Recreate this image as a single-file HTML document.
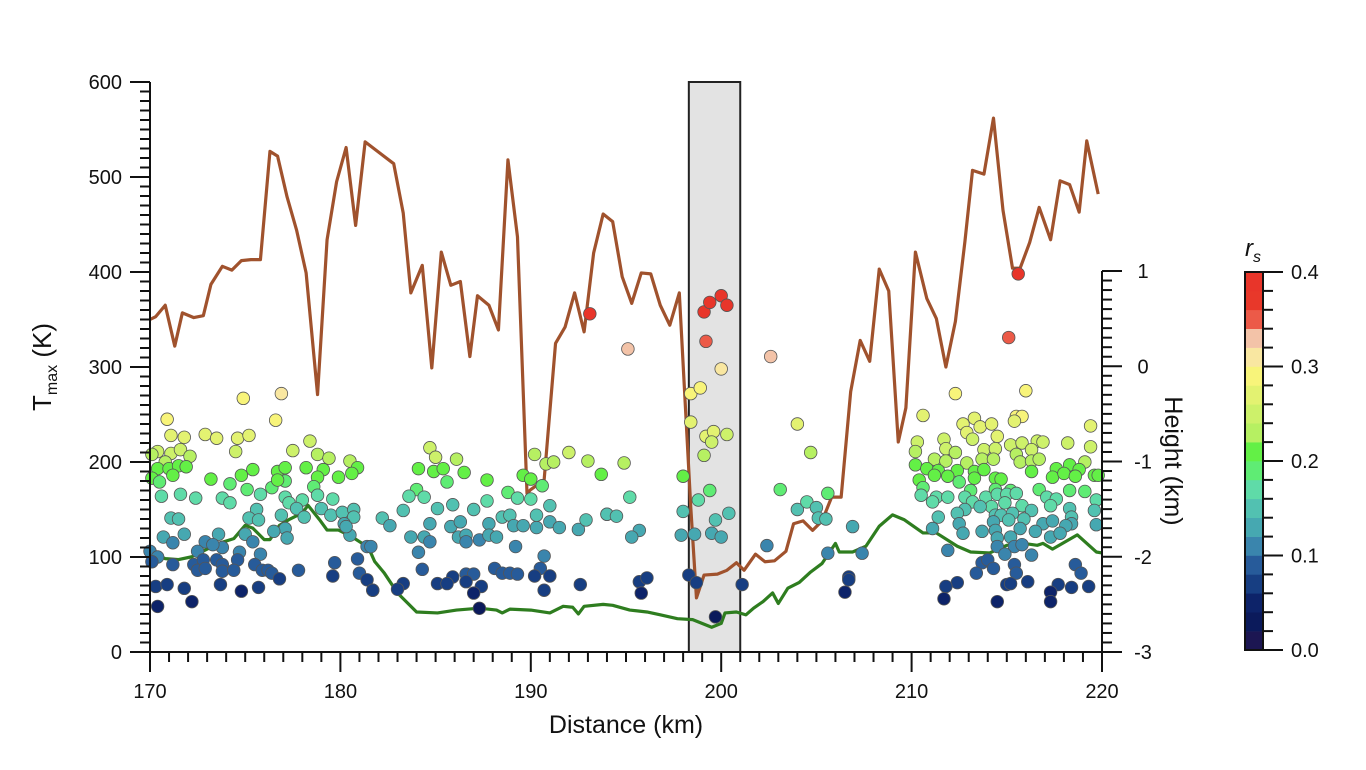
<!DOCTYPE html>
<html><head><meta charset="utf-8"><style>
html,body{margin:0;padding:0;background:#fff;}
svg{display:block;font-family:"Liberation Sans",Arial,sans-serif;}
</style></head>
<body>
<svg id="chart" width="1366" height="770" viewBox="0 0 1366 770" xmlns="http://www.w3.org/2000/svg">
<g id="bg"></g>
<g id="lines"></g>
<g id="dots"></g>
<g id="axes"></g>
<g id="cbar"></g>
</svg>
<script>
// ---- data ----
const lineDist = [170,170.3,170.8,171.3,171.7,172.3,172.8,173.2,173.8,174.3,174.8,175.3,175.8,176.3,176.7,177.2,177.7,178.2,178.8,179.3,179.8,180.3,180.8,181.3,182.8,183.3,183.7,184.3,184.8,185.3,185.8,186.3,186.8,187.2,187.8,188.3,188.8,189.3,189.8,190.0,190.7,191.3,191.8,192.3,192.8,193.3,193.8,194.3,194.8,195.3,195.8,196.3,196.8,197.3,197.8,198.4,198.7,199.1,199.8,200.3,200.8,201.2,201.8,202.3,202.8,203.4,203.8,204.3,204.8,205.3,205.8,206.3,206.8,207.3,207.8,208.3,208.8,209.3,209.7,210.2,210.8,211.3,211.8,212.3,212.8,213.2,213.8,214.3,214.8,215.3,215.7,216.2,216.7,217.3,217.8,218.3,218.8,219.2,219.8];
const tmaxLine = [350,353,365,322,357,352,354,387,406,402,412,413,413,527,522,479,444,399,271,434,495,531,449,537,514,462,378,407,299,421,386,390,311,375,365,339,518,437,167,171,181,325,342,378,337,420,461,453,395,367,399,398,365,344,378,153,57,81,82,86,94,86,103,95,96,106,135,138,128,138,163,163,274,328,306,403,380,221,257,421,372,351,300,348,432,507,503,562,465,404,404,431,468,434,496,492,463,538,482];
const hDist = [170,170.2,170.8,171.5,172.2,172.9,173.6,174.4,175.0,175.4,176.0,176.3,176.8,177.3,178.0,178.3,178.9,179.3,179.9,180.6,181.3,181.6,181.8,182.3,183.0,184.0,185.1,186.1,187.3,188.2,188.5,188.9,190.0,191.0,191.7,192.2,192.5,192.8,193.8,194.3,195.2,196.1,196.8,197.7,198.5,199.5,200.0,200.2,200.8,201.3,201.7,202.2,202.7,203.0,203.5,204.1,204.7,205.3,206.0,206.2,206.9,207.6,208.3,209.0,209.6,210.6,211.3,212.4,213.1,214.1,215.0,215.9,216.6,216.9,217.4,218.7,219.7,220];
const heightVals = [-1.96,-1.96,-2.02,-2.03,-2.00,-1.93,-1.86,-1.81,-1.67,-1.70,-1.82,-1.82,-1.67,-1.61,-1.54,-1.46,-1.61,-1.72,-1.72,-1.79,-1.88,-1.96,-2.05,-2.17,-2.38,-2.58,-2.59,-2.56,-2.54,-2.56,-2.59,-2.55,-2.56,-2.59,-2.52,-2.53,-2.60,-2.52,-2.50,-2.51,-2.56,-2.58,-2.61,-2.65,-2.66,-2.74,-2.70,-2.59,-2.58,-2.61,-2.54,-2.47,-2.38,-2.49,-2.33,-2.27,-2.16,-2.07,-1.86,-1.95,-1.95,-1.89,-1.68,-1.56,-1.61,-1.75,-1.75,-1.89,-1.95,-1.96,-1.88,-1.86,-1.88,-1.86,-1.92,-1.77,-1.95,-1.96];
const ptDist = [174.9,176.9,170.9,176.6,171.1,171.8,172.9,173.5,174.6,175.2,174.5,178.4,177.5,178.8,179.4,180.5,180.9,180.6,170.4,171.1,171.6,172.1,170.1,170.8,170.4,171.0,171.5,171.2,171.9,170.1,170.5,173.2,174.2,174.8,175.4,176.7,177.1,177.1,176.4,176.7,178.2,179.1,178.8,179.9,175.1,175.8,170.6,171.6,172.4,173.8,174.2,177.1,178.0,178.6,178.8,179.6,175.6,177.3,177.7,178.1,179.0,179.5,180.1,180.7,180.7,180.2,175.2,175.7,176.9,177.1,171.1,171.5,176.5,177.2,175.0,175.4,170.7,171.2,171.8,173.6,173.8,172.9,173.3,180.5,180.3,181.4,170.0,170.4,172.5,174.7,175.8,170.1,171.2,172.3,172.8,173.5,173.8,174.6,175.5,172.5,172.9,173.8,174.4,175.9,176.2,176.4,176.8,177.8,179.7,179.6,180.9,181.0,181.4,181.7,170.3,170.9,171.8,173.7,174.8,175.7,170.4,172.2,
184.7,185.0,186.1,184.1,184.9,185.4,186.5,185.6,187.7,190.2,190.8,191.2,192.0,193.0,193.7,189.6,190.0,190.6,184.0,183.6,184.4,188.8,189.3,190.0,183.3,185.1,185.9,187.0,187.7,191.0,194.0,182.2,182.6,184.7,185.8,186.3,187.8,188.5,188.9,189.1,189.6,190.3,190.3,191.0,191.5,192.5,192.9,183.7,184.4,184.7,186.2,186.6,187.3,187.8,188.2,186.6,189.2,184.1,190.7,181.6,184.3,188.1,188.5,188.9,189.3,190.5,190.2,191.0,185.9,186.6,187.0,186.6,185.1,185.6,183.3,183.0,181.7,187.4,187.0,190.7,192.6,187.3,
193.1,195.1,199.1,199.4,200.0,200.3,199.2,202.6,200.0,198.4,198.9,198.4,199.2,199.6,199.5,200.3,199.1,198.0,194.9,199.4,198.8,203.1,195.2,198.0,199.7,200.4,194.0,194.5,195.7,195.3,197.9,198.6,199.5,200.0,202.4,198.3,198.7,201.1,195.7,196.1,195.8,199.7,
215.6,215.1,212.3,216.0,204.0,204.7,210.6,205.6,204.0,204.5,205.0,205.1,205.5,206.9,205.6,207.4,206.7,206.7,206.5,
213.3,215.5,215.8,215.4,212.7,213.6,214.2,219.4,212.9,214.5,210.3,211.7,213.2,215.2,215.8,216.6,216.9,218.2,219.4,210.2,211.8,212.3,213.8,214.4,215.5,216.3,211.2,211.8,212.9,213.7,214.3,215.7,216.3,216.7,219.1,210.2,210.8,211.4,212.4,213.3,213.8,216.3,217.6,218.3,218.8,219.6,210.4,211.2,211.9,212.5,213.3,214.4,214.7,217.4,218.0,218.6,219.8,210.6,213.1,214.4,215.2,216.7,218.3,219.1,210.5,211.3,211.9,212.8,213.9,214.5,215.0,215.5,217.1,217.6,219.7,211.1,213.2,214.2,214.9,215.8,217.3,218.3,212.8,213.6,214.4,214.7,215.3,219.6,211.4,212.4,216.3,218.4,212.5,214.3,215.1,215.9,216.9,217.4,218.4,219.7,211.1,213.7,214.4,215.7,216.5,218.1,212.7,214.5,215.2,217.3,217.8,214.5,215.4,215.8,211.9,214.9,216.3,213.7,214.0,214.3,215.4,215.5,213.4,218.6,218.9,212.4,211.8,215.0,215.2,216.1,217.7,218.4,219.3,217.3,211.7,214.5,217.3];
const ptTmax = [267,272,245,244,228,226,229,225,225,228,211,222,212,208,204,201,194,188,211,209,213,206,208,200,193,193,196,186,195,183,179,182,177,186,192,190,194,180,173,181,194,192,184,184,171,166,164,166,162,162,157,163,160,174,165,161,150,157,151,142,151,144,147,150,142,135,141,139,144,130,141,140,127,120,124,116,121,115,124,124,110,116,113,123,132,111,106,100,106,105,103,95,92,92,97,97,92,97,92,86,88,85,86,86,86,83,77,86,94,80,98,83,76,65,69,71,67,71,64,68,48,53,
215,205,203,193,190,193,189,179,181,208,198,200,210,201,187,186,182,175,171,164,163,168,162,161,149,151,155,150,159,154,145,141,133,135,132,137,135,142,144,133,133,131,144,137,131,129,139,121,121,116,121,123,118,123,121,116,111,105,101,111,87,88,83,83,82,88,80,80,79,82,82,74,72,72,72,66,65,69,62,65,71,46,
356,319,358,368,375,365,327,311,298,272,278,242,227,232,221,229,207,185,199,170,160,171,163,148,139,146,145,143,128,121,123,124,125,121,112,81,73,71,74,78,62,37,
398,331,272,275,240,210,249,167,150,158,152,141,140,132,104,104,79,76,63,
246,248,248,243,240,237,240,238,231,227,221,224,224,218,220,222,221,220,216,211,214,210,213,214,208,213,203,201,199,203,203,200,201,203,200,197,193,191,191,190,192,190,193,197,192,186,181,186,185,179,183,183,182,184,188,185,186,173,170,171,170,171,170,169,165,163,163,163,163,166,166,167,163,161,160,158,158,153,157,154,154,151,150,153,144,144,146,149,142,146,149,142,135,137,139,140,135,138,135,134,130,127,128,130,127,133,125,120,121,121,125,111,111,113,107,103,102,94,97,88,92,83,83,92,83,73,69,71,72,74,71,68,69,63,56,53,53];
const ptRs = [.29,.30,.28,.28,.26,.26,.26,.26,.26,.26,.25,.25,.24,.23,.23,.23,.21,.20,.24,.24,.24,.23,.23,.22,.21,.21,.21,.20,.21,.20,.19,.20,.19,.20,.21,.20,.21,.19,.18,.20,.21,.21,.20,.20,.18,.17,.17,.17,.16,.16,.16,.16,.16,.18,.17,.16,.15,.16,.15,.14,.15,.14,.15,.15,.14,.13,.14,.14,.14,.13,.14,.14,.12,.12,.12,.11,.12,.11,.12,.12,.10,.11,.11,.12,.13,.10,.10,.10,.10,.10,.10,.09,.09,.09,.09,.09,.09,.09,.09,.08,.08,.08,.08,.08,.08,.08,.07,.08,.09,.07,.09,.08,.07,.06,.06,.06,.06,.06,.05,.06,.04,.04,
.25,.24,.23,.21,.21,.21,.21,.19,.20,.23,.22,.22,.24,.23,.21,.20,.20,.19,.18,.17,.17,.18,.16,.16,.15,.15,.15,.15,.16,.15,.14,.14,.13,.13,.13,.13,.13,.14,.14,.13,.13,.13,.14,.13,.13,.13,.14,.12,.12,.11,.12,.12,.11,.12,.12,.11,.10,.10,.10,.10,.08,.08,.08,.08,.08,.08,.07,.07,.07,.08,.08,.07,.06,.06,.06,.06,.06,.06,.05,.06,.06,.03,
.38,.33,.38,.39,.39,.38,.34,.32,.31,.29,.29,.27,.26,.26,.25,.25,.23,.20,.22,.18,.16,.19,.17,.15,.14,.15,.14,.14,.13,.12,.12,.12,.12,.12,.11,.07,.07,.06,.07,.07,.05,.02,
.38,.35,.29,.29,.27,.23,.27,.18,.15,.16,.15,.14,.14,.13,.10,.10,.07,.07,.05,
.27,.28,.28,.27,.27,.27,.27,.27,.26,.26,.25,.25,.25,.24,.24,.25,.25,.24,.24,.23,.24,.23,.24,.24,.23,.24,.22,.22,.22,.22,.22,.22,.22,.22,.22,.21,.21,.21,.21,.21,.21,.21,.21,.21,.21,.20,.20,.20,.20,.19,.20,.20,.20,.20,.20,.20,.20,.18,.18,.18,.18,.18,.18,.18,.17,.17,.17,.17,.17,.17,.17,.17,.17,.16,.16,.16,.16,.16,.16,.16,.16,.15,.15,.15,.14,.14,.14,.15,.14,.14,.15,.14,.13,.13,.14,.14,.13,.13,.13,.13,.13,.12,.12,.13,.12,.13,.12,.12,.12,.12,.12,.11,.11,.11,.10,.10,.10,.09,.09,.08,.09,.08,.08,.09,.08,.07,.06,.06,.06,.07,.06,.06,.06,.05,.04,.04,.04];
const xTicks = [170,180,190,200,210,220];
const yTicks = [0,100,200,300,400,500,600];
const hTicks = [-3,-2,-1,0,1];
const cbTicks = [0.0,0.1,0.2,0.3,0.4];
const cbColors = ['#1c1652','#0b1a5b','#0d2369','#173e82','#275b9a','#3a85ad','#46a8b1','#52c1b1','#5fdba8','#5fec74','#63f046','#b6f062','#cdf16a','#e3f271','#f8f47a','#f9e7a1','#f3c3a8','#ec5a48','#e8382a','#e8352a'];
const highlight = [198.3,201.0];

// ---- scales ----
const X0=150,X1=1102,YB=652,YT=82,HT=271;
const sx=d=>X0+(d-170)/(220-170)*(X1-X0);
const sy=v=>YB-(v-0)/(600-0)*(YB-YT);
const sh=h=>YB-(h+3)/(1+3)*(YB-HT);
const rsColor=r=>cbColors[Math.max(0,Math.min(19,Math.floor(r/0.02+1e-6)))];
const NS='http://www.w3.org/2000/svg';
function mk(tag,attrs,parent){const e=document.createElementNS(NS,tag);for(const k in attrs)e.setAttribute(k,attrs[k]);parent.appendChild(e);return e;}
const bg=document.getElementById('bg'),lines=document.getElementById('lines'),dots=document.getElementById('dots'),axes=document.getElementById('axes'),cbar=document.getElementById('cbar');

// highlight box
const box=mk('rect',{x:sx(highlight[0]),y:YT,width:sx(highlight[1])-sx(highlight[0]),height:YB-YT,fill:'#e3e3e3',stroke:'#222','stroke-width':2},bg);



// lines
const tl=mk('polyline',{points:lineDist.map((d,i)=>sx(d)+','+sy(tmaxLine[i])).join(' '),fill:'none',stroke:'#a0522d','stroke-width':3.2,'stroke-linejoin':'round'},lines);


const hl=mk('polyline',{points:hDist.map((d,i)=>sx(d)+','+sh(heightVals[i])).join(' '),fill:'none',stroke:'#2e7d1f','stroke-width':3.2,'stroke-linejoin':'round'},lines);



// dots
const n=Math.min(ptDist.length,ptTmax.length,ptRs.length);
for(let i=0;i<n;i++){
  const c=mk('circle',{cx:sx(ptDist[i]),cy:sy(ptTmax[i]),r:6.3,fill:rsColor(ptRs[i]),stroke:'#555','stroke-width':0.8},dots);
  
  
}

// axes
const ax=mk('g',{stroke:'#111','stroke-width':2,fill:'none'},axes);
mk('line',{x1:X0,y1:YT,x2:X0,y2:YB},ax);
mk('line',{x1:X0-20,y1:YB,x2:X1,y2:YB},ax);
mk('line',{x1:X1,y1:HT,x2:X1,y2:YB},ax);
for(let v=0;v<=600;v+=10){const y=sy(v);mk('line',{x1:X0-(v%100===0?20:10),y1:y,x2:X0,y2:y},ax);}
for(let d=170;d<=220;d++){const x=sx(d);mk('line',{x1:x,y1:YB,x2:x,y2:YB+(d%10===0?20:10)},ax);}
for(let k=0;k<=40;k++){const h=-3+k*0.1;const y=sh(h);mk('line',{x1:X1,y1:y,x2:X1+(k%10===0?20:10),y2:y},ax);}
const tg=mk('g',{fill:'#111','font-size':20},axes);
yTicks.forEach(v=>{const t=mk('text',{x:122,y:sy(v)+7,'text-anchor':'end'},tg);t.textContent=v;});
xTicks.forEach(v=>{const t=mk('text',{x:sx(v),y:698,'text-anchor':'middle'},tg);t.textContent=v;});
hTicks.forEach(v=>{const t=mk('text',{x:1143,y:sh(v)+7,'text-anchor':'middle'},tg);t.textContent=v;});

// colorbar
const CBX=1245,CBW=18,CBT=272,CBB=650;
cbColors.forEach((c,i)=>{const h=(CBB-CBT)/20;const r=mk('rect',{x:CBX,y:CBB-(i+1)*h,width:CBW,height:h+0.3,fill:c},cbar);});
mk('rect',{x:CBX,y:CBT,width:CBW,height:CBB-CBT,fill:'none',stroke:'#111','stroke-width':2},cbar);
for(let k=0;k<=20;k++){const y=CBB-k*(CBB-CBT)/20;mk('line',{x1:CBX+CBW,y1:y,x2:CBX+CBW+(k%5===0?20:10),y2:y,stroke:'#111','stroke-width':2},cbar);}
cbTicks.forEach(v=>{const t=mk('text',{x:1291,y:CBB-v/0.4*(CBB-CBT)+7,'font-size':20,fill:'#111'},cbar);t.textContent=v.toFixed(1);});
</script>
<svg style="position:absolute;left:0;top:0" width="1366" height="770">
<text x="626" y="733" text-anchor="middle" font-family="Liberation Sans, Arial, sans-serif" font-size="25" fill="#111">Distance (km)</text>
<text transform="translate(51,367) rotate(-90)" text-anchor="middle" font-family="Liberation Sans, Arial, sans-serif" font-size="26" fill="#111">T<tspan font-size="16" dy="6">max</tspan><tspan dy="-6"> (K)</tspan></text>
<text transform="translate(1165,461) rotate(90)" text-anchor="middle" font-family="Liberation Sans, Arial, sans-serif" font-size="25" fill="#111">Height (km)</text>
<text x="1245" y="256" font-family="Liberation Sans, Arial, sans-serif" font-size="24" font-style="italic" fill="#111">r<tspan font-size="16" dy="6">s</tspan></text>
</svg>
</body></html>
